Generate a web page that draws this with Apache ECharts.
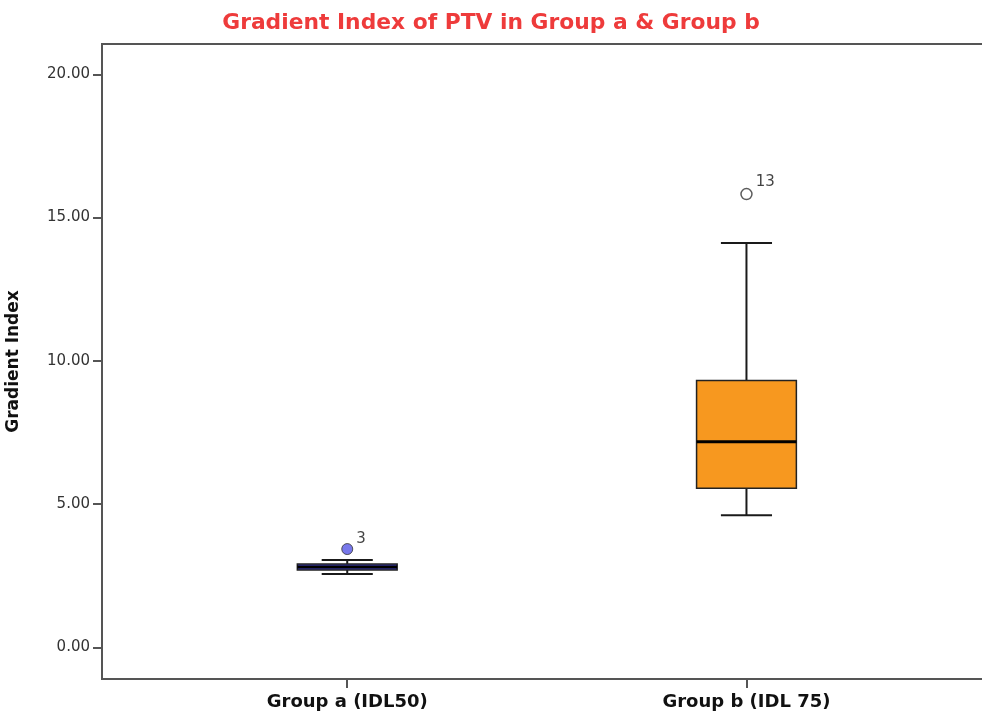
<!DOCTYPE html>
<html>
<head>
<meta charset="utf-8">
<script src="https://cdn.jsdelivr.net/npm/echarts@6/dist/echarts.min.js"></script>
<style>
  html, body { margin: 0; padding: 0; background: #fff; }
  #main { width: 982px; height: 718px; }
</style>
</head>
<body>
<div id="main"></div>
<script>
// groups, positions on x and their labels
var groupNames = ['Group a (IDL50)', 'Group b (IDL 75)'];
var groupPos = [1, 2];
// box stats: [min, Q1, median, Q3, max]
var groupA = [2.56, 2.70, 2.80, 2.91, 3.05];
var groupB = [4.61, 5.55, 7.18, 9.31, 14.11];
// outliers: [x, value, case label]
var outliersA = [[1, 3.43, '3']];
var outliersB = [[2, 15.82, '13']];
var yTicks = [0, 5, 10, 15, 20];

var boxColors = ['#4242c8', '#f7981f'];

var boxData = [
  [groupPos[0]].concat(groupA),
  [groupPos[1]].concat(groupB)
];

var FONT = 'DejaVu Sans, Verdana, sans-serif';

var chart = echarts.init(document.getElementById('main'));

function renderBox(params, api) {
  var x = api.value(0);
  var pMin = api.coord([x, api.value(1)]);
  var pQ1 = api.coord([x, api.value(2)]);
  var pMed = api.coord([x, api.value(3)]);
  var pQ3 = api.coord([x, api.value(4)]);
  var pMax = api.coord([x, api.value(5)]);
  var boxW = api.size([0.25, 0])[0];
  var capW = api.size([0.128, 0])[0];
  var cx = pMed[0];
  var lineStyle = { stroke: '#1a1a1a', lineWidth: 2 };
  return {
    type: 'group',
    children: [
      { type: 'line', shape: { x1: cx, y1: pMax[1], x2: cx, y2: pQ3[1] }, style: lineStyle },
      { type: 'line', shape: { x1: cx, y1: pQ1[1], x2: cx, y2: pMin[1] }, style: lineStyle },
      { type: 'line', shape: { x1: cx - capW / 2, y1: pMax[1], x2: cx + capW / 2, y2: pMax[1] }, style: lineStyle },
      { type: 'line', shape: { x1: cx - capW / 2, y1: pMin[1], x2: cx + capW / 2, y2: pMin[1] }, style: lineStyle },
      { type: 'rect', shape: { x: cx - boxW / 2, y: pQ3[1], width: boxW, height: pQ1[1] - pQ3[1] },
        style: { fill: boxColors[params.dataIndex], stroke: '#222', lineWidth: 1.5 } },
      { type: 'line', shape: { x1: cx - boxW / 2, y1: pMed[1], x2: cx + boxW / 2, y2: pMed[1] },
        style: { stroke: '#000', lineWidth: 3 } }
    ]
  };
}

var option = {
  animation: false,
  backgroundColor: '#fff',
  textStyle: { fontFamily: FONT },
  title: {
    text: 'Gradient Index of PTV in Group a & Group b',
    left: 'center',
    top: 7,
    textStyle: { color: '#ee3b3b', fontSize: 21.8, fontWeight: 'bold', fontFamily: FONT }
  },
  grid: {
    left: 102, top: 44, right: -4, bottom: 39,
    outerBoundsMode: 'none',
    show: true, borderColor: '#555', borderWidth: 2
  },
  xAxis: {
    type: 'value',
    min: 0.3857,
    max: 2.6,
    splitLine: { show: false },
    axisLine: { show: true, onZero: false, lineStyle: { color: '#555', width: 2 } },
    axisTick: { show: true, customValues: groupPos, length: 9, lineStyle: { color: '#555', width: 2 } },
    axisLabel: {
      customValues: groupPos,
      margin: 14,
      fontSize: 18,
      fontWeight: 'bold',
      color: '#111',
      formatter: function (v) { return groupNames[groupPos.indexOf(Math.round(v))] || ''; }
    }
  },
  yAxis: {
    type: 'value',
    min: -1.106,
    max: 21.06,
    name: 'Gradient Index',
    nameLocation: 'middle',
    nameGap: 80,
    nameTextStyle: { fontSize: 17, fontWeight: 'bold', color: '#111', fontFamily: FONT },
    splitLine: { show: false },
    axisLine: { show: true, onZero: false, lineStyle: { color: '#555', width: 2 } },
    axisTick: { show: true, customValues: yTicks, length: 9, lineStyle: { color: '#555', width: 2 } },
    axisLabel: {
      customValues: yTicks,
      margin: 12,
      fontSize: 15,
      color: '#333',
      formatter: function (v) { return v.toFixed(2); }
    }
  },
  series: [
    {
      type: 'custom',
      renderItem: renderBox,
      data: boxData,
      encode: { x: 0, y: [1, 2, 3, 4, 5] },
      z: 2
    },
    {
      type: 'scatter',
      data: outliersA,
      symbolSize: 11,
      itemStyle: { color: '#5656e6', borderColor: '#333', borderWidth: 1 },
      label: {
        show: true, position: 'right', distance: 3, offset: [0, -10],
        formatter: function (p) { return p.data[2]; },
        fontSize: 15, color: '#111'
      },
      z: 3
    },
    {
      type: 'scatter',
      data: outliersB,
      symbolSize: 11,
      itemStyle: { color: '#fff', borderColor: '#333', borderWidth: 1.5 },
      label: {
        show: true, position: 'right', distance: 3, offset: [0, -12],
        formatter: function (p) { return p.data[2]; },
        fontSize: 15, color: '#111'
      },
      z: 3
    }
  ]
};

chart.setOption(option);
</script>
</body>
</html>
